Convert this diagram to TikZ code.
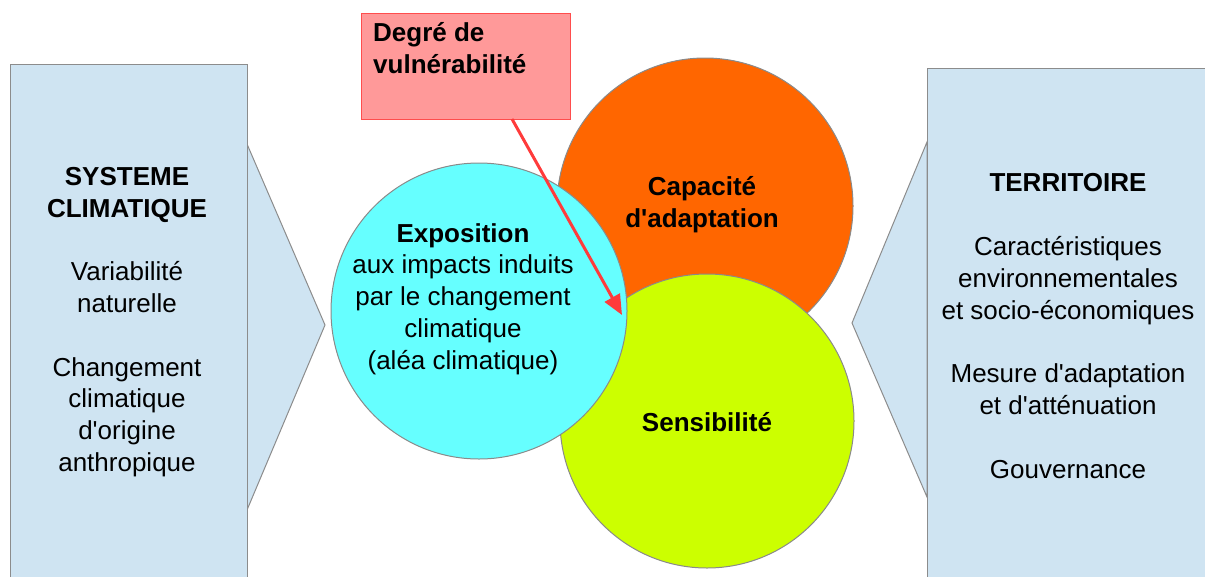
\documentclass[tikz,border=0pt]{standalone}
\usepackage{fontspec}
\setmainfont{Liberation Sans}
\usetikzlibrary{arrows.meta}
\definecolor{panelblue}{HTML}{CFE4F2}
\definecolor{panelline}{HTML}{8C8C8C}
\definecolor{cyanfill}{HTML}{66FFFF}
\definecolor{orangefill}{HTML}{FF6600}
\definecolor{greenfill}{HTML}{CCFF00}
\definecolor{pinkfill}{HTML}{FF9999}
\definecolor{pinkline}{HTML}{FF4D4D}
\definecolor{arrowred}{HTML}{FF3B3B}
\definecolor{circline}{HTML}{8A8A8A}
\newcommand{\apo}{\textquotesingle}
\tikzset{
  panel/.style={fill=panelblue, draw=panelline, line width=1pt},
  bubble/.style={circle, inner sep=0pt, minimum size=#1, draw=circline, line width=1pt},
  txt/.style={align=center, inner sep=0pt, font=\fontsize{26}{31.8}\selectfont},
  btxt/.style={txt, font=\fontsize{26}{31.8}\selectfont\bfseries},
}
\begin{document}
\begin{tikzpicture}[x=1pt,y=-1pt]
\useasboundingbox (0,0) rectangle (1205,576);
\clip (0,0) rectangle (1205,576);
% left panel
\draw[panel] (247,144) -- (325,325) -- (247,510) -- cycle;
\node[panel, anchor=north west, minimum width=237pt, minimum height=530pt, inner sep=0pt] (leftpanel) at (10,64) {};
% right panel
\draw[panel] (927,142) -- (852,323) -- (927,497) -- cycle;
\node[panel, anchor=north west, minimum width=300pt, minimum height=530pt, inner sep=0pt] (rightpanel) at (927,68) {};
% circles
\node[bubble=296pt, fill=orangefill] (capa) at (705,206) {};
\node[bubble=294pt, fill=greenfill] (sens) at (707,421) {};
\node[bubble=296pt, fill=cyanfill] (expo) at (479,311) {};
% pink box
\node[draw=pinkline, fill=pinkfill, line width=1pt, anchor=north west, minimum width=209pt, minimum height=106pt, inner sep=0pt] (degre) at (361,13) {};
\node[btxt, align=left, anchor=north west] (degretxt) at (373,22) {Degré de\\vulnérabilité};
% texts
\node[txt] (lefttxt) at (127,322) {\textbf{SYSTEME}\\\textbf{CLIMATIQUE}\\[31.8pt]Variabilité\\naturelle\\[31.8pt]Changement\\climatique\\d\apo origine\\anthropique};
\node[txt] (righttxt) at (1068,326) {\textbf{TERRITOIRE}\\[31.8pt]Caractéristiques\\environnementales\\et socio-économiques\\[31.8pt]Mesure d\apo adaptation\\et d\apo atténuation\\[31.8pt]Gouvernance};
\node[txt] (expotxt) at (463,299) {\textbf{Exposition}\\aux impacts induits\\par le changement\\climatique\\(aléa climatique)};
\node[btxt] (capatxt) at (702,205) {Capacité\\d\apo adaptation};
\node[btxt] (senstxt) at (707,422) {Sensibilité};
% arrow
\coordinate (arrstart) at (512,119);
\coordinate (arrtip) at (622,315);
\draw[arrowred, line width=3pt, -{Triangle[length=20pt,width=17pt]}] (arrstart) -- (arrtip);
\end{tikzpicture}
\end{document}
